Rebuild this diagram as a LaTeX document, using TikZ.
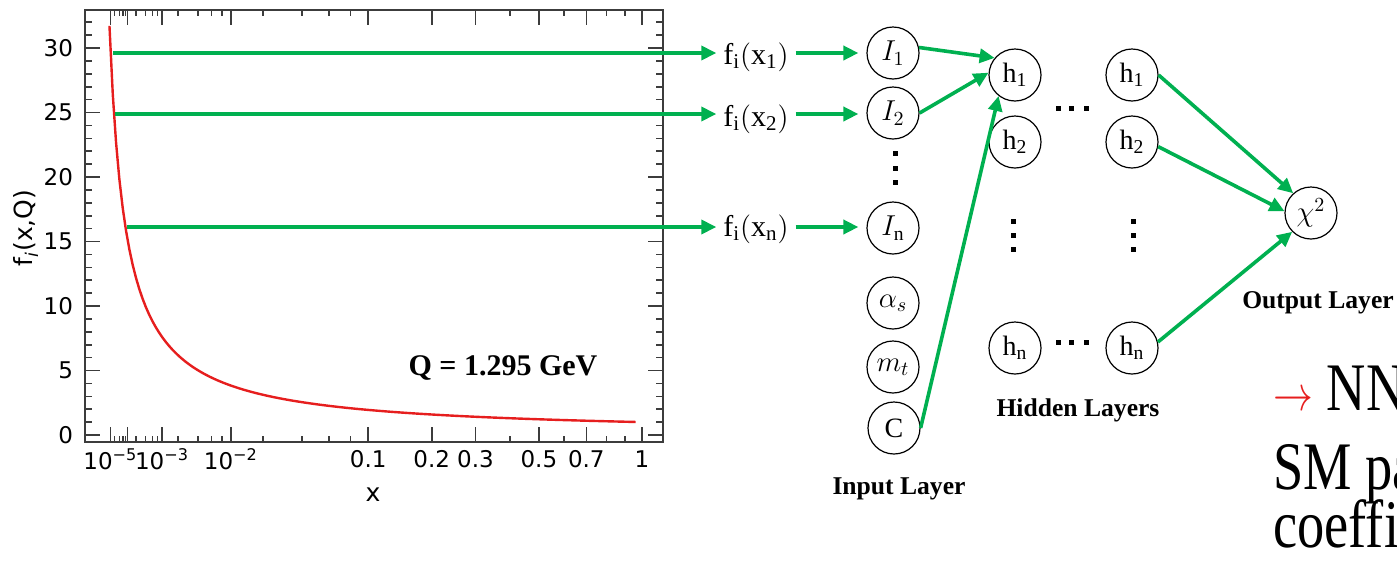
\documentclass[tikz,border=0pt]{standalone}
\usepackage{fontspec}
\setmainfont{Liberation Serif}
\newfontfamily\plotfont{DejaVu Sans}
\usetikzlibrary{positioning,arrows.meta}
\definecolor{ArrowGreen}{RGB}{0,176,80}
\definecolor{AxisGray}{RGB}{60,60,60}
\definecolor{CurveRed}{RGB}{230,30,30}
\tikzset{
  neuron/.style={circle,draw,line width=0.6pt,minimum size=26pt,inner sep=0pt,
    font=\fontsize{14}{14}\selectfont},
  fval/.style={font=\fontsize{15}{15}\selectfont},
  flow/.style={draw=ArrowGreen,line width=1.8pt,-{Triangle[length=7.5pt,width=7pt]}},
  layername/.style={font=\fontsize{12.8}{13}\selectfont\bfseries},
  ticklabel/.style={font=\plotfont\fontsize{11.5}{12}\selectfont},
  axisline/.style={AxisGray,line width=0.8pt},
  sqdot/.style={fill=black},
  bigtext/.style={anchor=base west,inner sep=0pt,xscale=0.8,font=\fontsize{34}{34}\selectfont},
}

\begin{document}
\begin{tikzpicture}[x=0.5pt,y=-0.5pt]
\useasboundingbox (0,0) rectangle (1397,563);

% the pdf plot
\draw[axisline] (85,10) rectangle (663,442);
\foreach \v in {1,...,32}
  \draw[axisline] (85,{435-12.9*\v}) -- ++(7,0) (663,{435-12.9*\v}) -- ++(-7,0);
\foreach \v in {0,5,...,30}{
  \draw[axisline] (85,{435-12.9*\v}) -- ++(15,0) (663,{435-12.9*\v}) -- ++(-15,0);
  \node[ticklabel,anchor=east] at (80,{435-12.9*\v}) {\v};
}
\foreach \p in {114.4,119.3,122.7,125.4,135.7,145.5,152.3,157.6,178.1,197.8,211.3,222.0,
    262.8,302.0,329.0,350.4,510.0,564.0,606.5,624.9}
  \draw[axisline] (\p,442) -- ++(0,-6) (\p,10) -- ++(0,6);
\foreach \p in {110.4,127.6,162.1,230.9,368.2,431.7,475.5,538.9,586.3,642}
  \draw[axisline] (\p,442) -- ++(0,-15) (\p,10) -- ++(0,15);
\foreach \p/\t in {110.4/10\textsuperscript{−5},162.1/10\textsuperscript{−3},
    230.9/10\textsuperscript{−2},368.2/0.1,431.7/0.2,475.5/0.3,538.9/0.5,586.3/0.7,642/1}
  \node[ticklabel] at (\p,459) {\t};
\node[ticklabel,font=\plotfont\fontsize{12.5}{13}\selectfont] (xlab) at (373,495) {x};
\node[ticklabel,font=\plotfont\fontsize{12.5}{13}\selectfont,rotate=90] (ylab) at (26,228)
  {f\textsubscript{\itshape i}(x,Q)};
\draw[CurveRed,line width=1.2pt] plot[domain=0.030:0.99,samples=160,variable=\u]
  ({93+549*\u},{435-12.9*(0.95/\u+0.05)});
\node[font=\fontsize{15}{15}\selectfont\bfseries] (qval) at (503,368) {Q = 1.295 GeV};

% points picked on the curve
\coordinate (p1) at (113,53);
\coordinate (p2) at (115,114);
\coordinate (p3) at (127,227);

% sampled values
\node[fval] (f1) at (756,57) {$\mathrm{f_i(x_1)}$};
\node[fval] (f2) at (756,119) {$\mathrm{f_i(x_2)}$};
\node[fval] (fn) at (756,229) {$\mathrm{f_i(x_n)}$};

% input layer
\node[neuron] (I1) at (893,53) {$I_1$};
\node[neuron] (I2) at (893,113) {$I_2$};
\node[neuron] (In) at (893,228) {$I_{\mathrm{n}}$};
\node[neuron] (as) at (893,303) {$\alpha_s$};
\node[neuron] (mt) at (893,367) {$m_t$};
\node[neuron] (C) at (894,428) {$\mathrm{C}$};
\node[layername] (inlab) at (899,489) {Input Layer};

% hidden layers
\node[neuron] (h1a) at (1015,75) {$\mathrm{h_1}$};
\node[neuron] (h2a) at (1015,142) {$\mathrm{h_2}$};
\node[neuron] (hna) at (1015,348) {$\mathrm{h_n}$};
\node[neuron] (h1b) at (1132,75) {$\mathrm{h_1}$};
\node[neuron] (h2b) at (1132,142) {$\mathrm{h_2}$};
\node[neuron] (hnb) at (1132,348) {$\mathrm{h_n}$};
\node[layername] (hidlab) at (1078,410) {Hidden Layers};

% output layer
\node[neuron] (chi) at (1311,213) {$\chi^2$};
\node[layername] (outlab) at (1318,303) {Output Layer};

% dots
\foreach \y in {153,168,182}
  \fill[sqdot] (892.5,\y-2.5) rectangle ++(5,5);
\foreach \x in {1013,1133}
  \foreach \y in {221,235,249}
    \fill[sqdot] (\x-2.5,\y-2.5) rectangle ++(5,5);
\foreach \y in {108,342}
  \foreach \x in {1058,1071,1086}
    \fill[sqdot] (\x-2.5,\y-2.5) rectangle ++(5,5);

% arrows
\draw[flow] (p1) -- (p1 -| f1.west);
\draw[flow] (p2) -- (p2 -| f2.west);
\draw[flow] (p3) -- (p3 -| fn.west);
\draw[flow,shorten >=4pt] (f1.east |- p1) -- (p1 -| I1.west);
\draw[flow,shorten >=4pt] (f2.east |- p2) -- (p2 -| I2.west);
\draw[flow,shorten >=4pt] (fn.east |- p3) -- (p3 -| In.west);
\draw[flow] (I1.12) -- (h1a.140);
\draw[flow] (I2.east) -- (h1a.175);
\draw[flow] (C.east) -- (h1a.-128);
\draw[flow] (h1b.east) -- (chi.132);
\draw[flow] (h2b.-10) -- (chi.176);
\draw[flow] (hnb.13) -- (chi.225);

% remark
\node[bigtext] (nn) at (1273,410)
  {\textcolor{CurveRed}{\fontsize{29}{29}\selectfont$\rightarrow$} NN};
\node[bigtext] (sm) at (1273,489) {SM pa};
\node[bigtext] (coef) at (1273,547) {coeffi};
\end{tikzpicture}
\end{document}
